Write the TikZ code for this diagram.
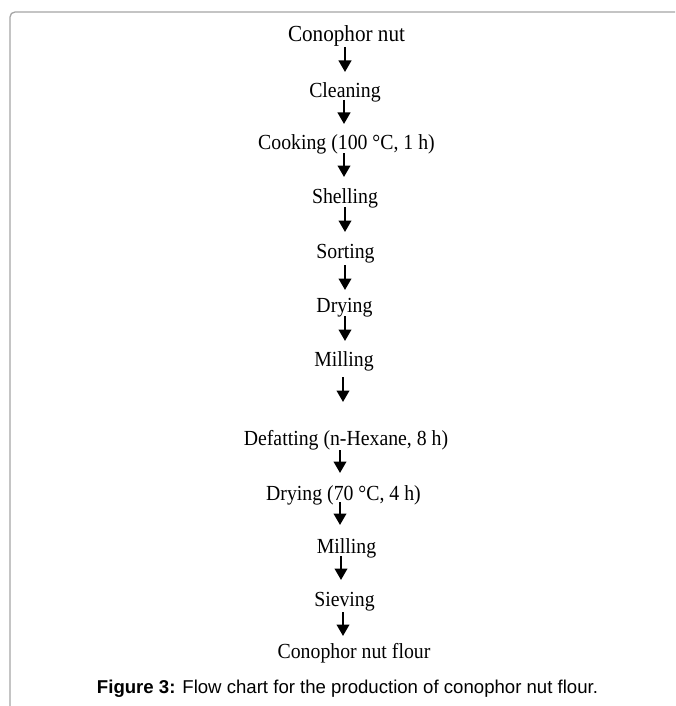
\documentclass[tikz,border=0pt]{standalone}
\usepackage{fontspec}
\setmainfont{Liberation Serif}
\newfontfamily\flowfont[FakeStretch=0.92]{Liberation Serif}
\newfontfamily\capfont{Liberation Sans}
\usetikzlibrary{arrows.meta}
\definecolor{framegray}{RGB}{165,165,165}
\begin{document}
\begin{tikzpicture}[x=1pt,y=-1pt,
  stepnode/.style={anchor=base, inner sep=0pt, font=\flowfont\fontsize{21.5}{24}\selectfont},
  flowarr/.style={-{Triangle[width=12.5pt,length=11.5pt]}, line width=2.4pt}]
\useasboundingbox (0,0) rectangle (675,706);
\clip (0,0) rectangle (675,706);
\draw[framegray, line width=1.3pt, rounded corners=5pt] (10,730) -- (10,12) -- (700,12);
% steps
\node[stepnode, font=\flowfont\fontsize{23}{26}\selectfont] (n1) at (346.5,42) {Conophor nut};
\node[stepnode] (n2) at (345,98) {Cleaning};
\node[stepnode] (n3) at (346.5,149) {Cooking (100 °C, 1 h)};
\node[stepnode] (n4) at (345,203) {Shelling};
\node[stepnode] (n5) at (345.5,258) {Sorting};
\node[stepnode] (n6) at (344.5,312) {Drying};
\node[stepnode] (n7) at (344,366) {Milling};
\node[stepnode] (n8) at (346,445) {Defatting (n-Hexane, 8 h)};
\node[stepnode] (n9) at (343.5,500) {Drying (70 °C, 4 h)};
\node[stepnode] (n10) at (346.5,553) {Milling};
\node[stepnode] (n11) at (344.5,606) {Sieving};
\node[stepnode] (n12) at (354,658) {Conophor nut flour};
% caption
\node[anchor=base, inner sep=0pt, font=\capfont\fontsize{18.6}{22}\selectfont] (cap) at (347.5,693)
  {\textbf{Figure 3:} Flow chart for the production of conophor nut flour.};
% arrows
\draw[flowarr] ([xshift=-1.5pt,yshift=-5pt]n1.base) -- ([xshift=0pt,yshift=26pt]n2.base);
\draw[flowarr] ([xshift=-1pt,yshift=-2pt]n2.base) -- ([xshift=-2.5pt,yshift=25pt]n3.base);
\draw[flowarr] ([xshift=-2.5pt,yshift=-4pt]n3.base) -- ([xshift=-1pt,yshift=26pt]n4.base);
\draw[flowarr] ([xshift=0pt,yshift=-4pt]n4.base) -- ([xshift=-0.5pt,yshift=26pt]n5.base);
\draw[flowarr] ([xshift=-0.5pt,yshift=-7pt]n5.base) -- ([xshift=0.5pt,yshift=22pt]n6.base);
\draw[flowarr] ([xshift=0.5pt,yshift=-4pt]n6.base) -- ([xshift=1pt,yshift=25pt]n7.base);
\draw[flowarr] ([xshift=-1pt,yshift=-11pt]n7.base) -- ([xshift=-3pt,yshift=43pt]n8.base);
\draw[flowarr] ([xshift=-6pt,yshift=-5pt]n8.base) -- ([xshift=-3.5pt,yshift=27pt]n9.base);
\draw[flowarr] ([xshift=-3.5pt,yshift=-2pt]n9.base) -- ([xshift=-6.5pt,yshift=28pt]n10.base);
\draw[flowarr] ([xshift=-5.5pt,yshift=-3pt]n10.base) -- ([xshift=-3.5pt,yshift=26pt]n11.base);
\draw[flowarr] ([xshift=-1.5pt,yshift=-6pt]n11.base) -- ([xshift=-11pt,yshift=22pt]n12.base);
\end{tikzpicture}
\end{document}
